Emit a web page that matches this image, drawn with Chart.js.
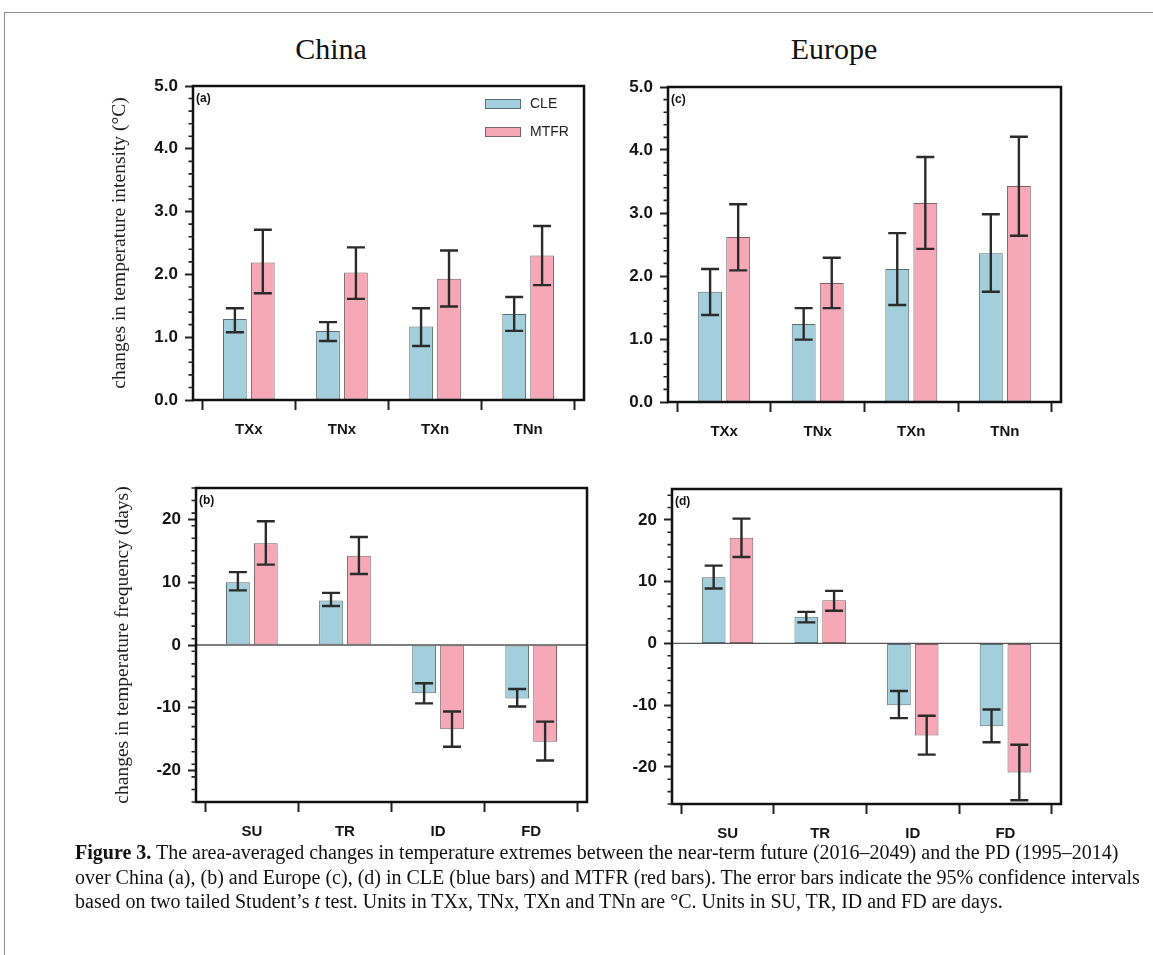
<!DOCTYPE html>
<html><head><meta charset="utf-8">
<script src="https://cdn.jsdelivr.net/npm/chart.js@4.4.0/dist/chart.umd.min.js"></script>
<style>
html,body{margin:0;padding:0;background:#fff;}
body{width:1153px;height:955px;overflow:hidden;position:relative;}
.frame{position:absolute;left:4px;top:12px;width:1300px;height:1100px;border-left:1.5px solid #8c8c8c;border-top:1.5px solid #8c8c8c;}
.ptitle{position:absolute;top:32px;font-family:"Liberation Serif",serif;font-size:30px;color:#111;transform:translateX(-50%);white-space:nowrap;}
.cv{position:absolute;}
.caption{position:absolute;left:75px;top:840px;font-family:"Liberation Serif",serif;font-size:20px;line-height:24.5px;color:#111;white-space:nowrap;}
</style></head><body>
<div class="frame"></div>
<div class="ptitle" style="left:331px">China</div>
<div class="ptitle" style="left:834px">Europe</div>
<canvas id="pa" class="cv"></canvas>
<canvas id="pb" class="cv"></canvas>
<canvas id="pc" class="cv"></canvas>
<canvas id="pd" class="cv"></canvas>
<div class="caption"><b>Figure 3.</b> The area-averaged changes in temperature extremes between the near-term future (2016–2049) and the PD (1995–2014)<br>over China (a), (b) and Europe (c), (d) in CLE (blue bars) and MTFR (red bars). The error bars indicate the 95% confidence intervals<br>based on two tailed Student’s <i>t</i> test. Units in TXx, TNx, TXn and TNn are °C. Units in SU, TR, ID and FD are days.</div>
<script>
// ---------- DATA ----------
const intensityCats = ['TXx', 'TNx', 'TXn', 'TNn'];
const frequencyCats = ['SU', 'TR', 'ID', 'FD'];
const seriesNames = ['CLE', 'MTFR'];

const intensityTicks = [0, 1, 2, 3, 4, 5];
const frequencyTicks = [-20, -10, 0, 10, 20];

// (a) China intensity
const chinaIntCLE      = [1.29, 1.10, 1.17, 1.37];
const chinaIntCLELow   = [1.08, 0.94, 0.86, 1.10];
const chinaIntCLEHigh  = [1.46, 1.24, 1.46, 1.64];
const chinaIntMTFR     = [2.19, 2.03, 1.93, 2.30];
const chinaIntMTFRLow  = [1.70, 1.61, 1.49, 1.83];
const chinaIntMTFRHigh = [2.71, 2.43, 2.38, 2.77];
// (c) Europe intensity
const europeIntCLE      = [1.75, 1.24, 2.11, 2.36];
const europeIntCLELow   = [1.38, 0.99, 1.54, 1.75];
const europeIntCLEHigh  = [2.11, 1.49, 2.68, 2.98];
const europeIntMTFR     = [2.62, 1.89, 3.16, 3.43];
const europeIntMTFRLow  = [2.09, 1.49, 2.43, 2.64];
const europeIntMTFRHigh = [3.14, 2.29, 3.89, 4.21];
// (b) China frequency
const chinaFreqCLE      = [10.0, 7.1, -7.7, -8.5];
const chinaFreqCLELow   = [8.7, 6.2, -9.3, -9.8];
const chinaFreqCLEHigh  = [11.6, 8.3, -6.1, -7.0];
const chinaFreqMTFR     = [16.2, 14.2, -13.4, -15.4];
const chinaFreqMTFRLow  = [12.8, 11.3, -16.2, -18.4];
const chinaFreqMTFRHigh = [19.7, 17.2, -10.6, -12.2];
// (d) Europe frequency
const europeFreqCLE      = [10.7, 4.3, -10.0, -13.4];
const europeFreqCLELow   = [8.9, 3.4, -12.1, -16.0];
const europeFreqCLEHigh  = [12.6, 5.1, -7.7, -10.7];
const europeFreqMTFR     = [17.1, 7.0, -14.9, -20.9];
const europeFreqMTFRLow  = [14.0, 5.3, -18.0, -25.4];
const europeFreqMTFRHigh = [20.2, 8.5, -11.7, -16.4];

const colorCLE = '#a3cfdc';
const colorMTFR = '#f7a8b6';
const edgeCLE = '#5a6d72';
const edgeMTFR = '#7e6065';

// ---------- DRAWING ----------
Chart.defaults.font.family = '"Liberation Sans", Arial, sans-serif';

const decor = {
  id: 'decor',
  beforeDatasetsDraw(chart, args, o) {
    const {ctx, chartArea: a, scales: {y}} = chart;
    if (o.zeroLine) {
      const py = y.getPixelForValue(0);
      ctx.save();
      ctx.strokeStyle = '#555';
      ctx.lineWidth = 1.3;
      ctx.beginPath(); ctx.moveTo(a.left, py); ctx.lineTo(a.right, py); ctx.stroke();
      ctx.restore();
    }
  },
  afterDatasetsDraw(chart, args, o) {
    const {ctx, chartArea: a, scales: {y}} = chart;
    ctx.save();
    // error bars
    chart.data.datasets.forEach((ds, di) => {
      const meta = chart.getDatasetMeta(di);
      meta.data.forEach((bar, i) => {
        const x = bar.x;
        const y1 = y.getPixelForValue(ds.errLow[i]);
        const y2 = y.getPixelForValue(ds.errHigh[i]);
        ctx.strokeStyle = '#2b2b2b';
        ctx.lineWidth = 2.4;
        ctx.beginPath();
        ctx.moveTo(x, y1); ctx.lineTo(x, y2);
        ctx.moveTo(x - o.cap, y1); ctx.lineTo(x + o.cap, y1);
        ctx.moveTo(x - o.cap, y2); ctx.lineTo(x + o.cap, y2);
        ctx.stroke();
      });
    });
    // frame
    ctx.strokeStyle = '#111';
    ctx.lineWidth = 2.5;
    ctx.strokeRect(a.left, a.top, a.right - a.left, a.bottom - a.top);
    // minor ticks
    ctx.lineWidth = 1.6;
    ctx.strokeStyle = '#222';
    ctx.beginPath();
    for (let k = 0; ; k++) {
      const v = y.min + k * o.minorStep;
      if (v > y.max + 1e-9) break;
      const r = Math.abs(v / o.majorStep - Math.round(v / o.majorStep));
      if (r < 1e-6) continue;
      const py = y.getPixelForValue(v);
      ctx.moveTo(a.left, py); ctx.lineTo(a.left - 4.5, py);
    }
    ctx.stroke();
    // panel letter
    ctx.fillStyle = '#111';
    ctx.font = 'bold 12px "Liberation Sans"';
    ctx.textBaseline = 'middle';
    ctx.textAlign = 'left';
    ctx.fillText(o.letter, a.left + 3, a.top + 13);
    // legend
    if (o.legend) {
      chart.data.datasets.forEach((ds, di) => {
        const bx = a.right - 99, by = a.top + 13 + di * 28;
        ctx.fillStyle = ds.backgroundColor;
        ctx.fillRect(bx, by, 36, 10);
        ctx.strokeStyle = ds.borderColor;
        ctx.lineWidth = 1;
        ctx.strokeRect(bx + 0.5, by + 0.5, 35, 9);
        ctx.fillStyle = '#222';
        ctx.font = '14px "Liberation Sans"';
        ctx.fillText(ds.label, a.right - 54, by + 5.5);
      });
    }
    ctx.restore();
  }
};

function makePanel(id, box, cats, cle, cleLo, cleHi, mtfr, mtfrLo, mtfrHi, yMin, yMax, yTicks, fmt, minorStep, majorStep, letter, yTitle, legend, zeroLine) {
  const padL = 110, padT = 20, padR = 30, padB = 50;
  const cv = document.getElementById(id);
  const w = (box.R - box.L) + padL + padR;
  const h = (box.B - box.T) + padT + padB;
  cv.width = w; cv.height = h;
  cv.style.left = (box.L - padL) + 'px';
  cv.style.top = (box.T - padT) + 'px';
  cv.style.width = w + 'px'; cv.style.height = h + 'px';
  const mk = (vals) => vals.map((v, i) => ({x: i, y: v}));
  return new Chart(cv, {
    type: 'bar',
    data: {
      datasets: [
        {label: seriesNames[0], data: mk(cle), errLow: cleLo, errHigh: cleHi,
         backgroundColor: colorCLE, borderColor: edgeCLE, borderWidth: 1, borderSkipped: false},
        {label: seriesNames[1], data: mk(mtfr), errLow: mtfrLo, errHigh: mtfrHi,
         backgroundColor: colorMTFR, borderColor: edgeMTFR, borderWidth: 1, borderSkipped: false}
      ]
    },
    options: {
      responsive: false,
      animation: false,
      devicePixelRatio: 1,
      layout: {padding: {left: 0, top: padT, right: padR, bottom: 0}, autoPadding: false},
      categoryPercentage: 0.6,
      barPercentage: 0.85,
      plugins: {
        legend: {display: false},
        tooltip: {enabled: false},
        decor: {cap: 9, minorStep, majorStep, letter, legend, zeroLine}
      },
      scales: {
        x: {
          type: 'linear', min: -0.6, max: 3.6, offset: false,
          afterBuildTicks: s => { s.ticks = cats.map((c, i) => ({value: i})); },
          afterFit: s => { s.height = padB; },
          ticks: {callback: v => cats[v], font: {size: 15, weight: 'bold'}, color: '#151515', padding: 11, maxRotation: 0, autoSkip: false},
          grid: {drawOnChartArea: false, drawTicks: true, tickLength: 10, tickColor: '#222', tickWidth: 2},
          border: {display: false}
        },
        y: {
          min: yMin, max: yMax,
          afterBuildTicks: s => { s.ticks = yTicks.map(v => ({value: v})); },
          afterFit: s => { s.width = padL; },
          ticks: {callback: v => fmt(v), font: {size: 17, weight: 'bold'}, color: '#151515', padding: 7, autoSkip: false},
          grid: {drawOnChartArea: false, drawTicks: true, tickLength: 8, tickColor: '#222', tickWidth: 2},
          border: {display: false},
          title: {display: !!yTitle, text: yTitle || '', font: {family: '"Liberation Serif", serif', size: 19.5}, color: '#222', padding: {top: 25, bottom: 0}}
        }
      }
    },
    plugins: [decor]
  });
}

const fmt1 = v => v.toFixed(1);
const fmt0 = v => String(v);

makePanel('pa', {L: 193, T: 86, R: 584, B: 400}, intensityCats,
  chinaIntCLE, chinaIntCLELow, chinaIntCLEHigh, chinaIntMTFR, chinaIntMTFRLow, chinaIntMTFRHigh,
  0, 5, intensityTicks, fmt1, 0.2, 1, '(a)', 'changes in temperature intensity (°C)', true, false);
makePanel('pc', {L: 668, T: 87, R: 1061, B: 402}, intensityCats,
  europeIntCLE, europeIntCLELow, europeIntCLEHigh, europeIntMTFR, europeIntMTFRLow, europeIntMTFRHigh,
  0, 5, intensityTicks, fmt1, 0.2, 1, '(c)', '', false, false);
makePanel('pb', {L: 196, T: 488, R: 587, B: 802}, frequencyCats,
  chinaFreqCLE, chinaFreqCLELow, chinaFreqCLEHigh, chinaFreqMTFR, chinaFreqMTFRLow, chinaFreqMTFRHigh,
  -25, 25, frequencyTicks, fmt0, 2, 10, '(b)', 'changes in temperature frequency (days)', false, true);
makePanel('pd', {L: 672, T: 489, R: 1061, B: 804}, frequencyCats,
  europeFreqCLE, europeFreqCLELow, europeFreqCLEHigh, europeFreqMTFR, europeFreqMTFRLow, europeFreqMTFRHigh,
  -26, 25, frequencyTicks, fmt0, 2, 10, '(d)', '', false, true);
</script>
</body></html>
